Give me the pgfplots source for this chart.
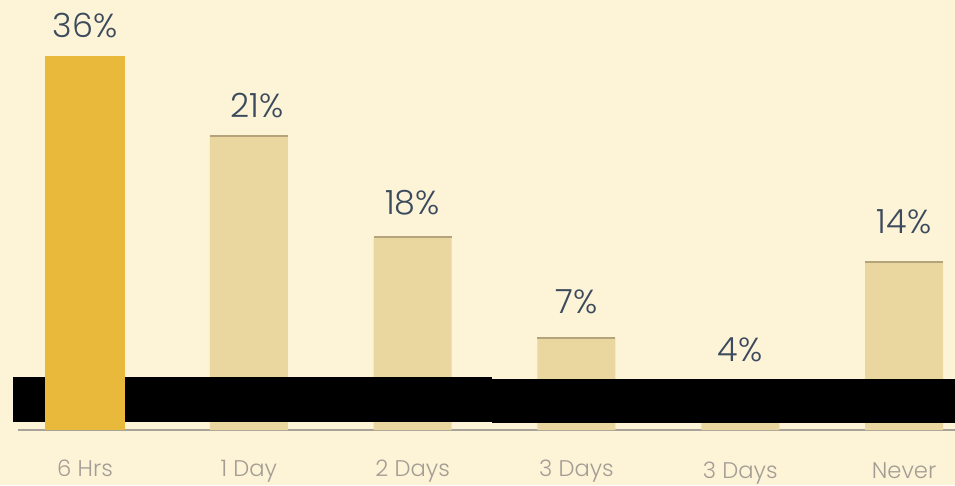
\documentclass[border=0pt]{standalone}
\usepackage{pgfplots}
\pgfplotsset{compat=1.18}
\usepackage{pgfplotstable}
\usepackage{fontspec}
\setmainfont{Poppins Light}

\definecolor{bgcream}{HTML}{FDF3D7}
\definecolor{gold}{HTML}{E8B93A}
\definecolor{tan}{HTML}{EAD7A0}
\definecolor{tanedge}{HTML}{B4A37B}
\definecolor{axisgray}{HTML}{A8A298}
\definecolor{ticktext}{HTML}{A39D94}
\definecolor{labeltext}{HTML}{3B4A5D}

% bar heights as drawn (the picture is not to scale with its labels)
\pgfplotstableread{
x h
1 28.4
2 18.6
3 8.9
4 3.9
5 16.2
}\tanbars
\pgfplotstableread{
x h
0 36.1
}\goldbar
% label text and where its baseline sits
\pgfplotstableread{
x y lab
0 37.9 36
1.05 30.2 21
2 20.8 18
3 11.2 7
4 6.6 4
5 19.0 14
}\labels

\begin{document}
\begin{tikzpicture}
\fill[bgcream] (0,0) rectangle (716.25pt,363.75pt);
\begin{axis}[
  at={(13.5pt,41.25pt)}, anchor=south west,
  scale only axis, width=702.75pt, height=322.5pt,
  xmin=-0.409, xmax=5.311, ymin=0, ymax=41.5,
  clip=false,
  axis x line*=bottom, axis y line=none,
  x axis line style={draw=axisgray, line width=1.7pt},
  xtick={0,...,5}, major tick length=0pt,
  xticklabels={6 Hrs, 1 Day, 2 Days, 3 Days, \raisebox{-2pt}{3 Days}, \raisebox{-2pt}{Never}},
  xticklabel style={anchor=base, yshift=-34.5pt, inner sep=0pt,
    font=\fontsize{17}{17}\selectfont, text=ticktext},
  ytick=\empty,
]
\addplot[ybar, bar width=58.5pt, bar shift=0pt, fill=tan, draw=none]
  table[x=x, y=h] {\tanbars};
% darker top edge; the 4th tan bar's top is hidden under the black band
\addplot[only marks, mark=-, mark size=29.25pt, skip coords between index={3}{4},
  mark options={draw=tanedge, line width=1.5pt}]
  table[x=x, y=h] {\tanbars};
\fill[black] (axis cs:-0.4396,0.772) rectangle (axis cs:2.4847,5.116);
\fill[black] (axis cs:2.4847,0.676) rectangle (axis cs:5.3114,4.923);
\addplot[ybar, bar width=60pt, bar shift=0pt, fill=gold, draw=none]
  table[x=x, y=h] {\goldbar};
\addplot[draw=none, mark=none, point meta=explicit symbolic,
  nodes near coords={\pgfplotspointmeta\%},
  nodes near coords style={anchor=base, inner sep=0pt,
    font=\fontsize{25}{25}\selectfont, text=labeltext}]
  table[x=x, y=y, meta=lab] {\labels};
\end{axis}
\pgfresetboundingbox
\path (0,0) rectangle (716.25pt,363.75pt);
\end{tikzpicture}
\end{document}
